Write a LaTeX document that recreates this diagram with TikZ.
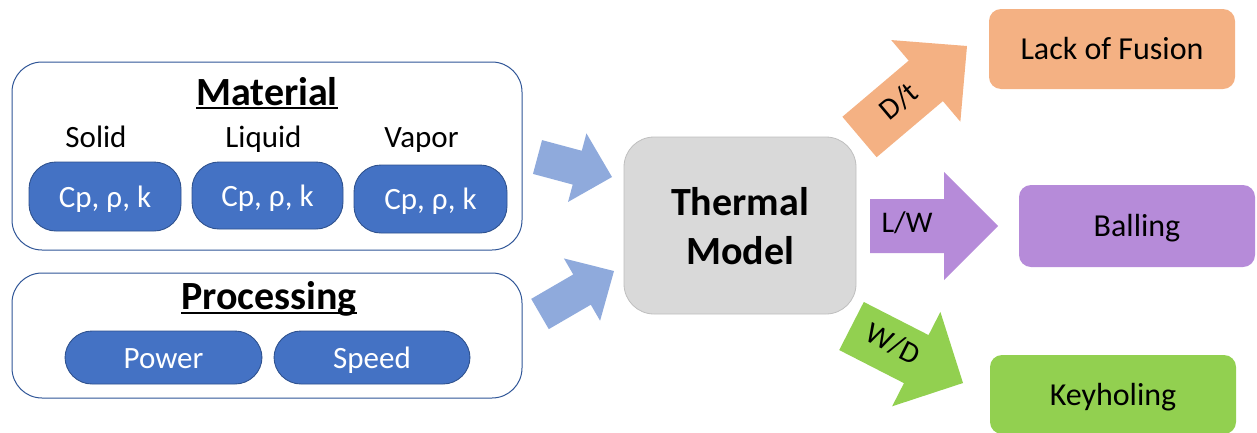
\documentclass[tikz,border=0pt]{standalone}
\usepackage{fontspec}
\setmainfont{Carlito}
\usetikzlibrary{calc}

\definecolor{panelline}{RGB}{47,85,151}
\definecolor{pillfill}{RGB}{68,114,196}
\definecolor{pillline}{RGB}{47,82,143}
\definecolor{inarrow}{RGB}{143,170,220}
\definecolor{modelfill}{RGB}{217,217,217}
\definecolor{modelline}{RGB}{191,191,191}
\definecolor{fusionfill}{RGB}{244,177,131}
\definecolor{ballfill}{RGB}{182,139,217}
\definecolor{keyfill}{RGB}{146,208,80}

% Block arrow: #1 style, #2 tail, #3 tip, #4 half shaft width,
% #5 half head width, #6 head length
\newcommand\blockarrow[6]{%
  \coordinate (ba-hb) at ($(#3)!#6!(#2)$);
  \fill[#1] ($(#2)!#4!90:(#3)$) -- ($(ba-hb)!#4!90:(#3)$)
    -- ($(ba-hb)!#5!90:(#3)$) -- (#3) -- ($(ba-hb)!#5!-90:(#3)$)
    -- ($(ba-hb)!#4!-90:(#3)$) -- ($(#2)!#4!-90:(#3)$) -- cycle;
}

\begin{document}
\begin{tikzpicture}[x=1pt,y=-1pt,
  panel/.style={draw=panelline, fill=white, line width=1pt,
    rounded corners=30pt, inner sep=0pt},
  pill/.style={draw=pillline, fill=pillfill, line width=0.9pt,
    rounded corners=27pt, text=white, inner sep=0pt,
    font=\fontsize{31}{37}\selectfont, text height=23pt, text depth=2pt},
  title/.style={inner sep=0pt, anchor=base, font=\bfseries\fontsize{40}{48}\selectfont},
  phase/.style={inner sep=0pt, anchor=base, font=\fontsize{31}{37}\selectfont},
  defect/.style={rounded corners=12pt, inner sep=0pt,
    font=\fontsize{32}{38}\selectfont, text height=23pt, text depth=2pt},
  ratio/.style={inner sep=0pt, font=\fontsize{30}{36}\selectfont},
  uline/.style={line width=2.7pt}
]
\useasboundingbox (0,0) rectangle (1257,432);

% ---- inputs: material properties ----
\node[panel, minimum width=510, minimum height=188] (material) at (267,156) {};
\node[title] (mtitle) at (267,105) {Material};
\draw[uline] ([yshift=-3pt]mtitle.base west) -- ([yshift=-3pt]mtitle.base east);
\node[phase] (solid)  at (96,147)  {Solid};
\node[phase] (liquid) at (263.5,147) {Liquid};
\node[phase] (vapor)  at (421.5,147) {Vapor};
\node[pill, minimum width=152, minimum height=69] (solidp)  at (105,196.5) {Cp, ρ, k};
\node[pill, minimum width=151, minimum height=67] (liquidp) at (267.5,195.5) {Cp, ρ, k};
\node[pill, minimum width=153, minimum height=68] (vaporp)  at (430.5,199) {Cp, ρ, k};

% ---- inputs: processing parameters ----
\node[panel, minimum width=510, minimum height=125] (processing) at (267,335.5) {};
\node[title] (ptitle) at (269,309) {Processing};
\draw[uline] ([yshift=-4pt]ptitle.base west) -- ([yshift=-4pt]ptitle.base east);
\node[pill, minimum width=197, minimum height=53] (power) at (163.5,357.5) {Power};
\node[pill, minimum width=196, minimum height=53] (speed) at (372,357.5) {Speed};

% ---- model ----
\node[draw=modelline, fill=modelfill, line width=0.8pt, rounded corners=30pt,
  minimum width=232, minimum height=177, align=center,
  font=\bfseries\fontsize{40}{49}\selectfont] (model) at (740,225.5)
  {\rule{0pt}{30pt}Thermal\\Model};

% ---- outcomes ----
\node[defect, fill=fusionfill, minimum width=246, minimum height=80] (fusion) at (1112,49) {Lack of Fusion};
\node[defect, fill=ballfill, minimum width=236, minimum height=82] (balling) at (1137,226) {Balling};
\node[defect, fill=keyfill, minimum width=246, minimum height=79] (keyhole) at (1113,394.5) {Keyholing};

% ---- arrows ----
\coordinate (matOut) at (537.5,157);
\coordinate (matIn)  at (612,177);
\coordinate (proOut) at (540,314);
\coordinate (proIn)  at (614,271);
\coordinate (dtOut)  at (859.5,137);
\coordinate (dtIn)   at (967,46);
\coordinate (lwOut)  at (870,226);
\coordinate (lwIn)   at (998,226);
\coordinate (wdOut)  at (851.5,326);
\coordinate (wdIn)   at (963,383);

\blockarrow{inarrow}{matOut}{matIn}{17.5pt}{35.5pt}{36pt}
\blockarrow{inarrow}{proOut}{proIn}{17.5pt}{36pt}{37pt}
\blockarrow{fusionfill}{dtOut}{dtIn}{26.5pt}{53.5pt}{54pt}
\blockarrow{ballfill}{lwOut}{lwIn}{27pt}{54pt}{54pt}
\blockarrow{keyfill}{wdOut}{wdIn}{27pt}{53pt}{52.5pt}

\node[ratio, rotate=40] (dt) at (899,101) {D/t};
\node[ratio, anchor=base] (lw) at (907,232.5) {L/W};
\node[ratio, rotate=-27] (wd) at (893,344) {W/D};
\end{tikzpicture}
\end{document}
